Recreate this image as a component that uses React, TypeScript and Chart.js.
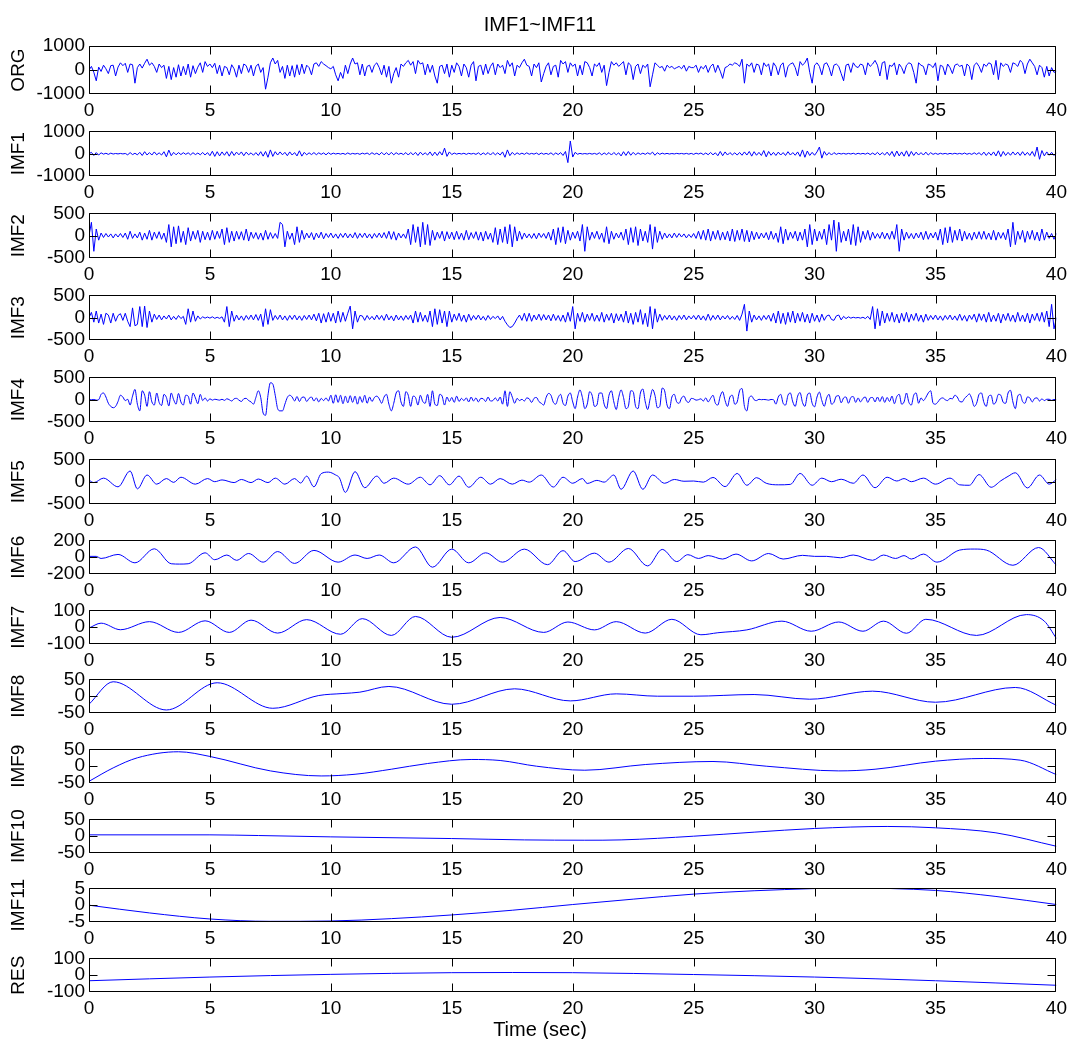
import React, { useEffect, useRef } from 'react';
import { Chart, registerables } from 'chart.js';

Chart.register(...registerables);

// ------------------------------------------------------------------ data
const FIG_TITLE = 'IMF1~IMF11';
const X_LABEL = 'Time (sec)';
const TIME_TICKS = [0, 5, 10, 15, 20, 25, 30, 35, 40];
const SAMPLE_STEP = 0.1; // seconds between values of the dense traces

const PANEL_LABELS = ['ORG', 'IMF1', 'IMF2', 'IMF3', 'IMF4', 'IMF5', 'IMF6', 'IMF7', 'IMF8', 'IMF9', 'IMF10', 'IMF11', 'RES'];
const Y_LIMITS = [1000, 1000, 500, 500, 500, 500, 200, 100, 50, 50, 50, 5, 100];

// dense traces, one row per second
const ORG = [
  0, 150, -100, -450, 120, -60, 200, 50, -150, 180,
  200, -250, 120, 300, 180, 280, -100, 250, 220, -550,
  100, 250, 80, 280, 450, 200, 300, 150, -100, 250,
  100, 200, -350, 150, -400, 100, -300, 220, -250, 150,
  -200, 250, -300, 180, -150, 120, 300, -100, 350, 150,
  250, 100, 280, -150, 200, -250, 150, 100, -200, 220,
  50, -300, 200, -150, 250, 180, -100, 200, -250, 150,
  250, -100, 100, -800, -300, 300, 500, 250, 400, -100,
  150, -350, 200, -250, 180, -300, 220, -200, 250, -150,
  200, 100, -200, 250, 300, 150, 350, 250, 180, 100,
  50, 150, -200, -450, -100, -350, 200, -150, 250, 500,
  250, 300, -200, 250, -250, 150, 200, -100, 200, 300,
  100, -200, 200, -300, 150, -550, -150, 100, -300, 250,
  150, 300, 400, 200, 350, -150, 400, 250, 300, -200,
  250, -100, 200, -250, -550, 150, 200, -150, 250, -300,
  200, -100, 300, 150, -250, 250, 100, -300, 200, 350,
  -450, 150, 200, -200, 250, -150, 150, 300, -200, 250,
  100, 200, -150, 400, 150, 300, -250, 200, 100, 300,
  450, 200, 150, -250, 250, 100, 300, -500, -150, 150,
  300, -200, 150, 200, -300, 400, 250, 350, -100, 300,
  150, 250, -250, 200, -200, 350, 300, 100, -250, 250,
  150, 300, -100, 200, -650, -100, 350, 200, 300, 150,
  250, 350, -200, 300, 200, -400, 150, 250, -150, 200,
  100, 250, -700, -200, 300, 200, 100, 150, -50, 200,
  100, 150, 50, 100, 150, 50, 200, -50, 150, 100,
  100, 200, -100, 150, 50, 200, -100, 150, 250, -100,
  200, -50, -350, 100, 150, 250, 200, 300, 250, 150,
  450, -550, 250, 150, 300, -100, 250, 200, -200, 300,
  150, 250, -250, 300, 150, -200, 200, 300, -300, 150,
  250, 300, 100, -250, 350, 200, 300, 500, -100, -550,
  200, 300, 150, -200, 250, 300, 100, -250, 200, 250,
  150, -150, -450, 200, 250, -100, 300, 150, 100, 250,
  200, -200, 300, 150, 250, 400, 200, -250, 300, 350,
  -400, 200, 150, 300, -200, 250, 100, -150, 200, 300,
  250, -100, -550, 300, 200, 150, -200, 250, 200, 100,
  300, -450, 200, 150, -200, 250, 100, -150, 200, 250,
  150, 200, -250, 250, 150, -400, 200, 300, 150, -100,
  250, 150, 300, 250, -200, 400, -400, 300, 150, 250,
  200, -100, 300, 250, 150, 400, 300, -150, 250, 450,
  300, 150, -200, 200, 100, -300, 150, -250, 100, -100,
  -50,
];

const IMF1 = [
  0, 60, -80, 50, -60, 40, -20, 20, -30, 25,
  -15, 10, -10, 12, -10, 10, -50, 50, -40, 20,
  -50, 60, -80, 90, -60, 50, -60, 80, -50, 40,
  -60, 90, -140, 160, -90, 60, -50, 50, -40, 45,
  -30, 40, -50, 45, -40, 30, -50, 55, -60, 50,
  -90, 110, -120, 90, -100, 80, -70, 90, -110, 100,
  -80, 70, -50, 80, -90, 70, -50, 40, -70, 50,
  -80, 90, -110, 100, -160, 170, -120, 90, -60, 80,
  -50, 60, -90, 80, -60, 50, -100, 130, -110, 60,
  -50, 40, -40, 50, -45, 40, -30, 35, -50, 45,
  -30, 25, -15, 15, -20, 15, -30, 35, -25, 15,
  -15, 15, -30, 25, -15, 30, -40, 45, -30, 25,
  -50, 60, -50, 45, -55, 60, -50, 45, -30, 25,
  -40, 50, -60, 55, -50, 60, -80, 70, -50, 40,
  -60, 80, -90, 70, -80, 90, -60, 250, -120, 80,
  -40, 30, -20, 15, -15, 20, -30, 20, -15, 15,
  -30, 40, -50, 35, -40, 50, -60, 55, -50, 40,
  -60, 80, -160, 170, -90, 60, -50, 40, -30, 25,
  -30, 40, -25, 15, -20, 30, -40, 30, -25, 15,
  -30, 40, -50, 35, -40, 50, -80, 100, -400, 570,
  -150, 60, -25, 15, -15, 8, -15, 15, -20, 15,
  -30, 40, -50, 35, -40, 50, -60, 55, -50, 40,
  -100, 90, -80, 100, -70, 60, -50, 40, -30, 25,
  -30, 40, -25, 70, -70, 45, -30, 25, -15, 15,
  -15, 8, -12, 15, -8, 12, -15, 15, -20, 15,
  -30, 25, -15, 30, -40, 30, -45, 55, -50, 40,
  -90, 100, -90, 80, -60, 50, -50, 40, -60, 55,
  -70, 80, -60, 100, -110, 90, -70, 60, -80, 140,
  -140, 100, -70, 60, -80, 70, -60, 50, -80, 90,
  -60, 50, -70, 80, -120, 170, -160, 120, -80, 60,
  -70, 80, 300, -200, 100, -70, 50, -60, 50, -30,
  20, -15, 15, -20, 15, -15, 20, -25, 20, -15,
  15, -20, 30, -40, 30, -45, 60, -55, 45, -60,
  70, -80, 100, -130, 120, -100, 80, -110, 130, -120,
  100, -80, 70, -60, 50, -60, 70, -60, 45, -30,
  20, -30, 20, -15, 15, -20, 15, -15, 20, -15,
  15, -20, 30, -25, 15, -30, 40, -30, 45, -60,
  70, -80, 60, -70, 80, -100, 130, -130, 100, -80,
  60, -70, 80, -60, 70, -80, 90, -70, 60, -80,
  100, -120, 300, -250, 140, -100, 80, -70, 60, -80,
  40,
];

const IMF2 = [
  0, 300, -350, 150, -100, 60, -40, 50, -30, 40,
  -50, 40, -30, 50, -40, 60, -80, 100, -60, 40,
  -50, 80, -100, 60, -80, 120, -100, 80, -60, 90,
  -80, 60, -150, 250, -250, 200, -180, 220, -150, 100,
  -200, 180, -120, 100, -80, 120, -150, 100, -90, 80,
  -100, 120, -80, 100, -60, 150, -200, 180, -150, 100,
  -120, 100, -80, 90, -100, 150, -120, 80, -60, 70,
  -80, 60, -100, 120, -80, 70, -60, 50, -60, 300,
  250, -250, 100, -80, 60, -200, 200, -150, 120, -80,
  60, -50, 70, -90, 60, -50, 80, -70, 50, -40,
  60, -50, 40, -60, 50, -40, 60, -50, 40, -50,
  70, -60, 50, -40, 60, -50, 40, -60, 50, -40,
  60, -50, 70, -60, 100, -80, 90, -100, 60, -50,
  40, -60, 150, -200, 250, -150, 200, -250, 300, -200,
  250, -220, 120, -100, 80, -60, 100, -120, 90, -70,
  80, -90, 100, -80, 60, -100, 120, -90, 70, -60,
  90, -100, 80, -120, 100, -80, 60, -150, 180, -200,
  150, -150, 200, -180, 250, -250, 200, -120, 100, -80,
  60, -50, 40, -60, 50, -70, 60, -40, 50, -60,
  80, -100, 150, -200, 180, -150, 200, -180, 120, -100,
  80, -60, 100, -120, 250, -350, 200, -100, 80, -60,
  100, -80, 60, -150, 200, -180, 100, -80, 60, -50,
  80, -100, 150, -200, 180, -150, 200, -220, 150, -120,
  100, -150, 250, -300, 200, -150, 100, -80, 60, -50,
  40, -50, 60, -40, 50, -30, 40, -50, 30, -40,
  50, -60, 100, -80, 120, -100, 150, -120, 100, -80,
  120, -100, 80, -90, 100, -120, 150, -130, 120, -100,
  150, -130, 120, -140, 100, -90, 80, -70, 60, -50,
  70, -90, 100, -80, 60, -150, 200, -180, 150, -100,
  80, -60, 100, -120, 80, -100, 150, -250, 250, -200,
  150, -120, 100, -80, 150, -200, 250, -100, 350, -350,
  300, -150, 100, -120, 150, -200, 250, -220, 200, -150,
  100, -80, 120, -100, 80, -60, 50, -60, 80, -70,
  60, -80, 100, -80, 250, -350, 150, -100, 80, -60,
  50, -70, 60, -50, 80, -90, 100, -80, 60, -50,
  80, -100, 150, -200, 180, -160, 200, -150, 120, -100,
  150, -120, 100, -80, 60, -100, 80, -70, 90, -80,
  100, -80, 60, -90, 120, -100, 80, -60, 70, -90,
  150, -250, 300, -200, 100, -80, 120, -150, 100, -80,
  120, -100, 80, -120, 150, -100, 80, -60, 50, -80,
  50,
];

const IMF3 = [
  0, 120, -100, 150, -120, 80, -150, 100, 60, -120,
  100, -80, 50, 90, -60, 100, -80, -200, 220, -180,
  -150, 250, -200, 260, -220, 150, -100, 80, -40, 60,
  -50, 40, -30, 60, -50, 30, -40, 50, -20, 30,
  -150, 200, -100, 150, -80, 40, -30, 20, -10, 15,
  -10, 20, -15, 10, -15, 20, -100, 250, -200, 150,
  -80, 60, -50, 40, -60, 50, -40, 60, -50, 70,
  -60, 80, -200, 200, -150, 180, -60, 50, -40, 60,
  -50, 40, -60, 50, -40, 60, -50, 40, -60, 50,
  -40, 60, -50, 80, -70, 100, -120, 90, -100, 120,
  -80, 100, -120, 150, -100, 120, -80, 100, 260, -250,
  150, -100, 50, 40, -60, 50, -40, 30, -50, 60,
  -40, 50, -60, 80, -50, 40, -70, 60, -50, 40,
  -60, 50, -40, 60, -120, 150, -100, 120, -80, 60,
  -100, 150, -200, 200, -150, 180, -120, 150, -200, 150,
  -100, 80, -60, 100, -80, 60, -100, 80, -60, 50,
  -40, 60, -50, 30, -60, 50, -40, 30, -20, 40,
  -50, 30, -80, -160, -220, -200, -120, -20, 60, -60,
  100, -80, 100, -80, 60, -50, 80, -60, 70, -50,
  60, -70, 80, -60, 50, -80, 60, -100, 120, -80,
  250, -250, 100, -80, 120, -100, 80, -60, 100, -80,
  60, -80, 120, -100, 80, -60, 100, -120, 90, -70,
  80, -100, 150, -120, 100, -150, 120, -100, 180, -150,
  100, -200, 250, -250, 200, -100, 80, -60, 50, -40,
  60, -50, 40, -60, 50, -40, 60, -50, 40, -30,
  50, -40, 60, -50, 40, -60, 80, -60, 50, -40,
  60, -50, 40, -30, 50, -40, 30, -40, 50, -60,
  80, 300, -300, 150, -100, 60, -50, 40, -60, 50,
  -40, 60, -80, 100, -120, 150, -130, 100, -150, 120,
  -100, 150, -120, 100, -80, 120, -100, 80, -120, 100,
  -80, 60, -100, 80, -60, 40, 60, -40, -60, 40,
  60, -50, 30, -20, 20, -10, 10, -5, 5, -10,
  10, -20, 30, -40, 250, -250, 200, -180, 150, -120,
  100, -80, 120, -100, 80, -120, 100, -80, 120, -100,
  80, -60, 100, -80, 60, -100, 80, -60, 50, -40,
  60, -50, 40, -60, 50, -40, 60, -50, 40, -60,
  80, -60, 50, -80, 60, -40, 80, -100, 90, -60,
  80, -100, 120, -90, 60, -80, 100, -120, 80, -60,
  100, -80, 60, -100, 120, -80, 60, -90, 100, -120,
  80, -60, 100, -80, 120, -100, 150, -200, 300, -250,
  0,
];

const IMF4 = [
  0, 0, 5, -10, 0, 120, 150, 60, -80, -150,
  -180, -150, -40, 100, 60, -20, 10, -120, 80, 230,
  -100, -250, 200, 100, -150, 180, -50, -120, 150, -60,
  -130, 120, 50, -140, 150, 0, -100, 140, -50, -120,
  100, 80, -100, 150, 40, -90, 120, -20, 40, -30,
  20, -10, 10, 0, -10, 10, -15, 20, 0, -30,
  20, 30, -10, -40, 20, 30, -20, -50, -100, 50,
  200, 50, -300, -350, 100, 380, 350, 100, -200, -250,
  -250, -100, 50, 100, 60, -30, 70, -40, 50, 60,
  -40, 30, 60, -30, 40, -50, 30, -20, 40, -30,
  100, -80, 110, -60, 100, -90, 80, -70, 90, -60,
  80, -100, 70, -60, 100, -80, 60, -40, 50, 80,
  20, -80, 60, 120, -100, -250, -80, 150, 200, -50,
  -150, 180, 100, -150, 80, 50, -120, 100, -40, -80,
  120, -150, 200, -100, -130, 120, 80, -120, 60, -40,
  50, -60, 80, -40, 30, -20, 40, -50, 60, -30,
  40, -50, 30, 20, -40, 60, -30, -20, 40, -30,
  60, -100, 200, -150, 180, 60, -80, 30, -20, 10,
  -30, 40, 20, -60, 30, 50, -40, -80, -120, 50,
  140, 100, -60, -100, 50, 120, -80, -130, 80, 150,
  -50, -200, 60, 220, 50, -200, -100, 180, 100, -150,
  -120, 150, 150, -100, -200, 100, 200, -50, -220, 50,
  220, 50, -200, -150, 200, 180, -150, -200, 150, 240,
  -50, -220, 20, 230, 100, -180, -150, 260, 200, -120,
  -200, 60, 120, -50, -80, 40, 80, -30, -60, 30,
  20, -10, 0, 20, -30, 40, -50, 30, 100, -80,
  -120, 80, 180, -20, -150, 60, 100, -100, -50, 200,
  250, -150, -250, 50, 80, 0, -20, 10, 0, 5,
  0, -10, 5, 0, -100, 60, 120, -80, -120, 100,
  150, -50, -150, 80, 160, -60, -150, 100, 150, -80,
  -160, 60, 170, -20, -150, 40, 120, -100, -60, 80,
  90, -70, 40, 60, -80, 50, 70, -60, 40, -50,
  30, 60, -60, 40, 50, -50, 60, -40, 70, -60,
  50, -40, 80, -90, 70, 120, -100, -50, 150, -60,
  -120, 100, 150, -80, 40, -20, 50, 150, 200, -80,
  -100, -50, 20, 40, 0, -20, 30, 20, 100, 60,
  -40, -50, 30, 80, 130, 20, -150, -80, 120, 150,
  -60, -150, 80, 100, -100, -50, 120, 100, -60, -80,
  150, 210, -50, -200, 80, 120, -40, -80, 60, 40,
  -50, 30, 40, -30, 20, -20, 10, 10, -15, 5,
  0,
];

// slower components: (time, value) pairs read at turning points
const IMF5_T = [0, 0.2, 0.6, 1.2, 1.7, 2.0, 2.4, 2.8, 3.2, 3.5, 3.8, 4.4, 4.9, 5.2, 5.5, 6.0, 6.3, 6.7, 7.0, 7.4, 7.7, 8.1, 8.5, 8.75, 9.0, 9.3, 9.6, 9.9, 10.2, 10.35, 10.6, 11.0, 11.4, 11.9, 12.2, 12.6, 13.2, 13.7, 14.1, 14.5, 14.9, 15.3, 15.7, 16.2, 16.6, 17.0, 17.5, 17.9, 18.2, 18.7, 19.2, 19.6, 20.0, 20.4, 20.6, 21.0, 21.3, 21.7, 22.0, 22.5, 22.9, 23.3, 23.8, 24.2, 24.6, 25.0, 25.4, 25.8, 26.3, 26.8, 27.2, 27.6, 28.0, 28.5, 29.0, 29.4, 29.9, 30.3, 30.7, 31.1, 31.6, 32.0, 32.5, 33.0, 33.4, 33.7, 34.0, 34.5, 35.0, 35.6, 36.0, 36.4, 36.8, 37.3, 37.7, 38.0, 38.3, 38.8, 39.3, 39.7, 40];
const IMF5_V = [35, -20, 80, -115, 240, -160, 150, -55, 70, -15, 100, -55, 70, 0, 40, -20, 50, -20, 60, -20, 80, -55, 70, -30, 125, -115, 180, 215, 150, 90, -240, 225, -135, 125, -35, 80, -55, 100, -70, 135, -70, 125, -125, 100, -55, 70, -55, 35, -10, 150, -120, 100, -35, 70, -40, 30, -10, 150, -170, 240, -170, 150, -35, 50, 10, 15, -10, 95, -110, 185, -80, 90, -35, -70, -60, 185, -80, 80, 0, 55, -35, 150, -135, 100, 15, 70, 0, 80, -55, 80, -70, -80, 160, -125, 20, 120, 200, -140, 150, -55, 50];

const IMF6_T = [0, 0.3, 0.5, 1.2, 1.9, 2.7, 3.4, 3.75, 4.1, 4.8, 5.2, 5.7, 6.1, 6.6, 7.2, 7.8, 8.5, 9.3, 10.3, 11.0, 11.5, 12.0, 12.6, 13.5, 14.2, 15.0, 15.7, 16.4, 17.1, 18.0, 18.96, 19.6, 20.1, 20.9, 21.5, 22.3, 23.1, 23.7, 24.3, 24.76, 25.2, 25.6, 26.2, 26.75, 27.4, 28.1, 28.7, 29.5, 30.0, 30.5, 31.07, 31.6, 32.4, 32.85, 33.35, 33.7, 34.0, 34.5, 35.06, 36.0, 36.6, 37.1, 38.2, 39.26, 40];
const IMF6_V = [10, 10, -15, 33, -67, 100, -78, -82, -78, 52, -30, 26, -37, 44, -59, 67, -74, 81, -59, 26, -15, 26, -67, 122, -119, 96, -67, 52, -59, 96, -89, 78, -52, 48, -59, 104, -104, 93, -52, 30, -15, 19, -22, 37, -44, 44, -22, 22, 10, 10, -7, 26, -37, 26, -15, 19, -22, 37, -59, 85, 97, 85, -96, 115, -96];

const IMF7_T = [0, 0.5, 1.3, 2.5, 3.7, 4.8, 5.8, 6.7, 7.8, 9.0, 10.4, 11.3, 12.5, 13.5, 15.0, 17.0, 18.8, 19.8, 20.9, 21.8, 23.0, 24.1, 25.3, 26.0, 27.2, 28.65, 29.86, 31.0, 32.0, 32.85, 33.8, 34.6, 36.7, 38.76, 39.5, 40];
const IMF7_V = [-5, 24, -15, 33, -31, 38, -31, 42, -35, 45, -42, 51, -49, 64, -60, 58, -31, 31, -16, 33, -35, 47, -45, -33, -16, 36, -24, 31, -24, 36, -36, 47, -49, 75, 36, -67];

const IMF8_T = [0, 1.0, 3.2, 5.3, 7.6, 9.5, 10.5, 11.2, 12.4, 15.0, 17.6, 19.9, 21.8, 23.5, 25.0, 27.5, 29.8, 32.4, 35.0, 38.3, 40];
const IMF8_V = [-24, 43, -41, 40, -36, 2, 8, 12, 29, -24, 22, -14, 7, 0, 0, 5, -9, 15, -18, 26, -27];

const IMF9_T = [0, 1, 2, 3.7, 5, 7.5, 9.6, 11, 12.5, 14, 15.8, 17, 18.5, 20.5, 23, 25.8, 28, 31, 32.5, 35, 37, 38.5, 40];
const IMF9_V = [-45, -5, 25, 43, 29, -14, -29, -24, -9, 8, 20, 17, 0, -12, 5, 14, 0, -14, -9, 15, 23, 18, -25];

const IMF10_T = [0, 5, 7, 10, 15, 18, 20.5, 22, 25, 27.5, 30, 33, 35, 37.5, 40];
const IMF10_V = [4, 4, 2, -2, -7, -11, -12, -11, 0, 12, 23, 29, 25, 10, -30];

const IMF11_T = [0, 2.5, 5, 7.5, 10, 12.5, 15, 17.5, 20, 22.5, 25, 27.5, 30, 31.5, 33.2, 35, 37.5, 40];
const IMF11_V = [0, -2.3, -4.1, -4.8, -4.7, -4.0, -2.9, -1.5, 0.2, 1.8, 3.3, 4.3, 4.95, 5.3, 4.95, 4.4, 2.6, 0.2];

const RES_T = [0, 5, 10, 15, 17.5, 20, 25, 30, 35, 40];
const RES_V = [-33, -11, 5, 15, 16, 15, 4, -11, -33, -60];

// ------------------------------------------------------------------ series
type Pt = { x: number; y: number };
const dense = (vals: number[]): Pt[] => vals.map((y, i) => ({ x: Math.round(i * SAMPLE_STEP * 1000) / 1000, y }));
const keyed = (t: number[], v: number[]): Pt[] => t.map((x, i) => ({ x, y: v[i] }));

const SERIES: { pts: Pt[]; smooth: boolean }[] = [
  { pts: dense(ORG), smooth: false },
  { pts: dense(IMF1), smooth: false },
  { pts: dense(IMF2), smooth: false },
  { pts: dense(IMF3), smooth: false },
  { pts: dense(IMF4), smooth: true },
  { pts: keyed(IMF5_T, IMF5_V), smooth: true },
  { pts: keyed(IMF6_T, IMF6_V), smooth: true },
  { pts: keyed(IMF7_T, IMF7_V), smooth: true },
  { pts: keyed(IMF8_T, IMF8_V), smooth: true },
  { pts: keyed(IMF9_T, IMF9_V), smooth: true },
  { pts: keyed(IMF10_T, IMF10_V), smooth: true },
  { pts: keyed(IMF11_T, IMF11_V), smooth: true },
  { pts: keyed(RES_T, RES_V), smooth: true },
];

// ------------------------------------------------------------------ layout
const PAGE_W = 1072;
const PAGE_H = 1039;
const BOX_LEFT = 89;
const BOX_RIGHT = 1059;
const BOX_TOPS = [46, 128, 210, 292, 374, 456, 537, 607, 676, 746, 816, 885, 955];
const BOX_HEIGHTS = [48, 48, 48, 48, 48, 48, 37, 37, 37, 37, 37, 37, 37];
const TOP_ROOM = 12;
const XAXIS_H = 30;
const LAST_XAXIS_H = 26;
const TITLE_SIZE = 20;
const TITLE_LH = TITLE_SIZE * 1.2;
const TICK_SIZE = 19;
const YLABEL_SIZE = 19;
const YLABEL_X = 19; // centre of the rotated panel names
const TICK_LEN = 8;
const FONT_FAMILY = '"Liberation Sans", Arial, Helvetica, sans-serif';
const LINE_COLOR = '#0000ff';

const boxPlugin = {
  id: 'axesBox',
  afterDatasetsDraw(chart: any) {
    const { ctx, chartArea, scales } = chart;
    const L = Math.round(chartArea.left) + 0.5;
    const R = Math.round(chartArea.right) - 0.5;
    const T = Math.round(chartArea.top) + 0.5;
    const B = Math.round(chartArea.bottom) - 0.5;
    ctx.save();
    ctx.strokeStyle = '#000';
    ctx.lineWidth = 1;
    ctx.beginPath();
    ctx.rect(L, T, R - L, B - T);
    for (const t of scales.x.ticks) {
      const px = Math.min(R, Math.max(L, Math.round(scales.x.getPixelForValue(t.value)) + 0.5));
      ctx.moveTo(px, T);
      ctx.lineTo(px, T + TICK_LEN);
      ctx.moveTo(px, B);
      ctx.lineTo(px, B - TICK_LEN);
    }
    for (const t of scales.y.ticks) {
      const py = Math.min(B, Math.max(T, Math.round(scales.y.getPixelForValue(t.value)) + 0.5));
      ctx.moveTo(L, py);
      ctx.lineTo(L + TICK_LEN, py);
      ctx.moveTo(R, py);
      ctx.lineTo(R - TICK_LEN, py);
    }
    ctx.stroke();
    ctx.restore();
  },
};

function Panel({ index }: { index: number }) {
  const ref = useRef<HTMLCanvasElement>(null);
  const first = index === 0;
  const last = index === PANEL_LABELS.length - 1;
  const boxTop = BOX_TOPS[index];
  const boxH = BOX_HEIGHTS[index];
  const canvasTop = first ? 0 : boxTop - TOP_ROOM;
  const xAxisH = last ? LAST_XAXIS_H : XAXIS_H;
  const canvasH = boxTop - canvasTop + boxH + xAxisH + (last ? TITLE_LH : 0);
  // the figure title and x label sit centred on the page, not on the axes box
  const padLeft = first || last ? 21 : 8;

  useEffect(() => {
    const lim = Y_LIMITS[index];
    const s = SERIES[index];
    const tickFont = { family: FONT_FAMILY, size: TICK_SIZE };
    const chart = new Chart(ref.current as HTMLCanvasElement, {
      type: 'line',
      data: {
        datasets: [
          {
            data: s.pts,
            borderColor: LINE_COLOR,
            borderWidth: 1,
            pointRadius: 0,
            fill: false,
            tension: 0,
            cubicInterpolationMode: s.smooth ? 'monotone' : 'default',
          } as any,
        ],
      },
      options: {
        animation: false,
        responsive: false,
        events: [],
        layout: {
          padding: { left: padLeft, right: PAGE_W - BOX_RIGHT, top: first ? 0 : TOP_ROOM, bottom: 0 },
        },
        plugins: {
          legend: { display: false },
          tooltip: { enabled: false },
          title: first
            ? {
                display: true,
                text: FIG_TITLE,
                color: '#000',
                font: { family: FONT_FAMILY, size: TITLE_SIZE, weight: 'normal' },
                padding: { top: 13, bottom: boxTop - 13 - TITLE_LH },
              }
            : last
            ? {
                display: true,
                position: 'bottom',
                text: X_LABEL,
                color: '#000',
                font: { family: FONT_FAMILY, size: TITLE_SIZE, weight: 'normal' },
                padding: { top: 0, bottom: 0 },
              }
            : { display: false },
        },
        scales: {
          x: {
            type: 'linear',
            min: 0,
            max: 40,
            grid: { display: false, drawTicks: false },
            border: { display: false },
            afterBuildTicks: (sc: any) => {
              sc.ticks = TIME_TICKS.map((v) => ({ value: v }));
            },
            afterFit: (sc: any) => {
              sc.height = xAxisH;
            },
            ticks: {
              autoSkip: false,
              maxRotation: 0,
              padding: 5,
              color: '#000',
              font: tickFont,
              callback: (v: any) => String(v),
            },
          },
          y: {
            type: 'linear',
            min: -lim,
            max: lim,
            grid: { display: false, drawTicks: false },
            border: { display: false },
            afterBuildTicks: (sc: any) => {
              sc.ticks = [-lim, 0, lim].map((v) => ({ value: v }));
            },
            afterFit: (sc: any) => {
              sc.width = BOX_LEFT - padLeft;
            },
            ticks: {
              autoSkip: false,
              padding: 4,
              color: '#000',
              font: tickFont,
              callback: (v: any) => String(v),
            },
            title: {
              display: true,
              text: PANEL_LABELS[index],
              color: '#000',
              font: { family: FONT_FAMILY, size: YLABEL_SIZE },
              padding: { top: YLABEL_X - padLeft - (YLABEL_SIZE * 1.2) / 2, bottom: 0 },
            },
          },
        },
      } as any,
      plugins: [boxPlugin],
    });
    return () => chart.destroy();
  }, [index, xAxisH, padLeft]);

  return (
    <canvas
      ref={ref}
      width={PAGE_W}
      height={canvasH}
      style={{ position: 'absolute', left: 0, top: canvasTop, width: PAGE_W, height: canvasH, display: 'block' }}
    />
  );
}

export default function App() {
  useEffect(() => {
    document.body.style.margin = '0';
  }, []);
  return (
    <div
      style={{
        position: 'absolute',
        left: 0,
        top: 0,
        width: PAGE_W,
        height: PAGE_H,
        overflow: 'hidden',
        background: '#fff',
      }}
    >
      {PANEL_LABELS.map((name, i) => (
        <Panel key={name} index={i} />
      ))}
    </div>
  );
}
